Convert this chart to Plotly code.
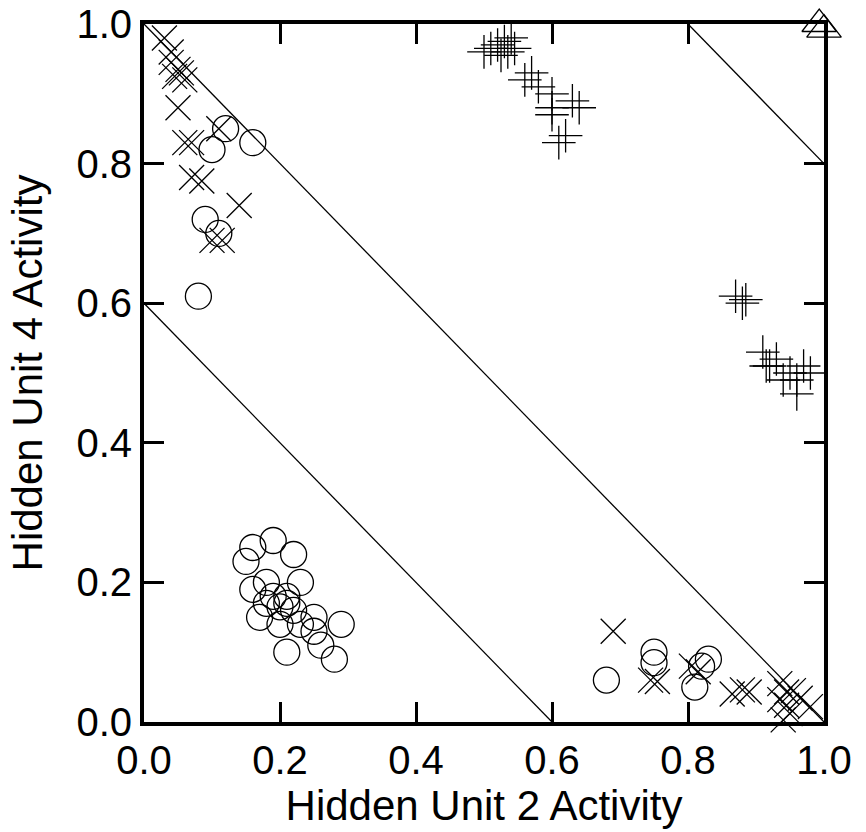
import plotly.graph_objects as go

# Circles
circ_x = [0.12, 0.10, 0.16, 0.09, 0.11, 0.08,
          0.16, 0.19, 0.22, 0.15, 0.18, 0.23, 0.16, 0.21, 0.19, 0.18, 0.21, 0.20, 0.22,
          0.17, 0.20, 0.25, 0.23, 0.29, 0.25, 0.26, 0.21, 0.28,
          0.68, 0.75, 0.75, 0.83, 0.82, 0.81]
circ_y = [0.85, 0.82, 0.83, 0.72, 0.70, 0.61,
          0.25, 0.26, 0.24, 0.23, 0.20, 0.20, 0.19, 0.18, 0.18, 0.17, 0.17, 0.165, 0.16,
          0.15, 0.14, 0.15, 0.14, 0.14, 0.13, 0.11, 0.10, 0.09,
          0.06, 0.10, 0.085, 0.09, 0.08, 0.05]

# X markers
xm_x = [0.03, 0.04, 0.04, 0.05, 0.055, 0.045, 0.06, 0.05, 0.06, 0.07, 0.07, 0.085, 0.14,
        0.10, 0.115, 0.11,
        0.69, 0.745, 0.755, 0.805, 0.815, 0.865, 0.88, 0.89,
        0.935, 0.945, 0.935, 0.945, 0.95, 0.965, 0.98, 0.94, 0.955]
xm_y = [0.98, 0.96, 0.945, 0.935, 0.93, 0.925, 0.92, 0.88, 0.83, 0.83, 0.78, 0.775, 0.74,
        0.69, 0.69, 0.85,
        0.13, 0.06, 0.058, 0.08, 0.072, 0.04, 0.046, 0.043,
        0.055, 0.043, 0.032, 0.024, 0.012, 0.034, 0.022, 0.003, 0.045]

# Plus markers
pl_x = [0.50, 0.51, 0.52, 0.53, 0.54, 0.535, 0.545, 0.525,
        0.56, 0.57, 0.58, 0.60, 0.60, 0.63, 0.64, 0.60, 0.62, 0.61,
        0.87, 0.885, 0.88,
        0.91, 0.92, 0.93, 0.95, 0.96, 0.97, 0.96, 0.98, 0.94, 0.915]
pl_y = [0.96, 0.965, 0.97, 0.975, 0.98, 0.96, 0.965, 0.955,
        0.92, 0.93, 0.91, 0.90, 0.88, 0.89, 0.88, 0.87, 0.84, 0.83,
        0.61, 0.605, 0.60,
        0.53, 0.51, 0.52, 0.50, 0.49, 0.51, 0.47, 0.50, 0.49, 0.51]

# Triangles
tri_x = [0.993, 1.0]
tri_y = [1.0, 0.992]

# Decision boundaries x + y = c
bound_c = [0.6, 1.0, 1.8]

tick_vals = [0, 0.2, 0.4, 0.6, 0.8, 1.0]
tick_text = ["0.0", "0.2", "0.4", "0.6", "0.8", "1.0"]

fig = go.Figure()

for c in bound_c:
    x0 = max(0.0, c - 1.0)
    x1 = min(1.0, c)
    fig.add_trace(go.Scatter(x=[x0, x1], y=[c - x0, c - x1], mode="lines",
                             line=dict(color="black", width=1.3), showlegend=False,
                             hoverinfo="skip"))

mk_line = dict(color="black", width=1.3)
fig.add_trace(go.Scatter(x=circ_x, y=circ_y, mode="markers", cliponaxis=False,
                         marker=dict(symbol="circle-open", size=26, color="black", line=mk_line),
                         showlegend=False))
fig.add_trace(go.Scatter(x=xm_x, y=xm_y, mode="markers", cliponaxis=False,
                         marker=dict(symbol="x-thin-open", size=25, color="black", line=mk_line),
                         showlegend=False))
fig.add_trace(go.Scatter(x=pl_x, y=pl_y, mode="markers", cliponaxis=False,
                         marker=dict(symbol="cross-thin-open", size=24, color="black", line=mk_line),
                         showlegend=False))
fig.add_trace(go.Scatter(x=tri_x, y=tri_y, mode="markers", cliponaxis=False,
                         marker=dict(symbol="triangle-up-open", size=30, color="black", line=mk_line),
                         showlegend=False))

axis_common = dict(range=[0, 1], tickmode="array", tickvals=tick_vals, ticktext=tick_text,
                   ticks="inside", ticklen=20, tickwidth=3, tickcolor="black",
                   showline=True, linewidth=4, linecolor="black", mirror="ticks",
                   showgrid=False, zeroline=False, automargin=False,
                   tickfont=dict(size=40, color="black"))

fig.update_xaxes(title=dict(text="Hidden Unit 2 Activity", font=dict(size=42, color="black"), standoff=4),
                 **axis_common)
fig.update_yaxes(title=dict(text="Hidden Unit 4 Activity", font=dict(size=42, color="black"), standoff=22),
                 **axis_common)

fig.update_layout(width=866, height=832,
                  margin=dict(l=144, r=42, t=24, b=110),
                  plot_bgcolor="white", paper_bgcolor="white",
                  font=dict(family="Liberation Sans, Arial, sans-serif", color="black"))

fig.write_html("out.html")
